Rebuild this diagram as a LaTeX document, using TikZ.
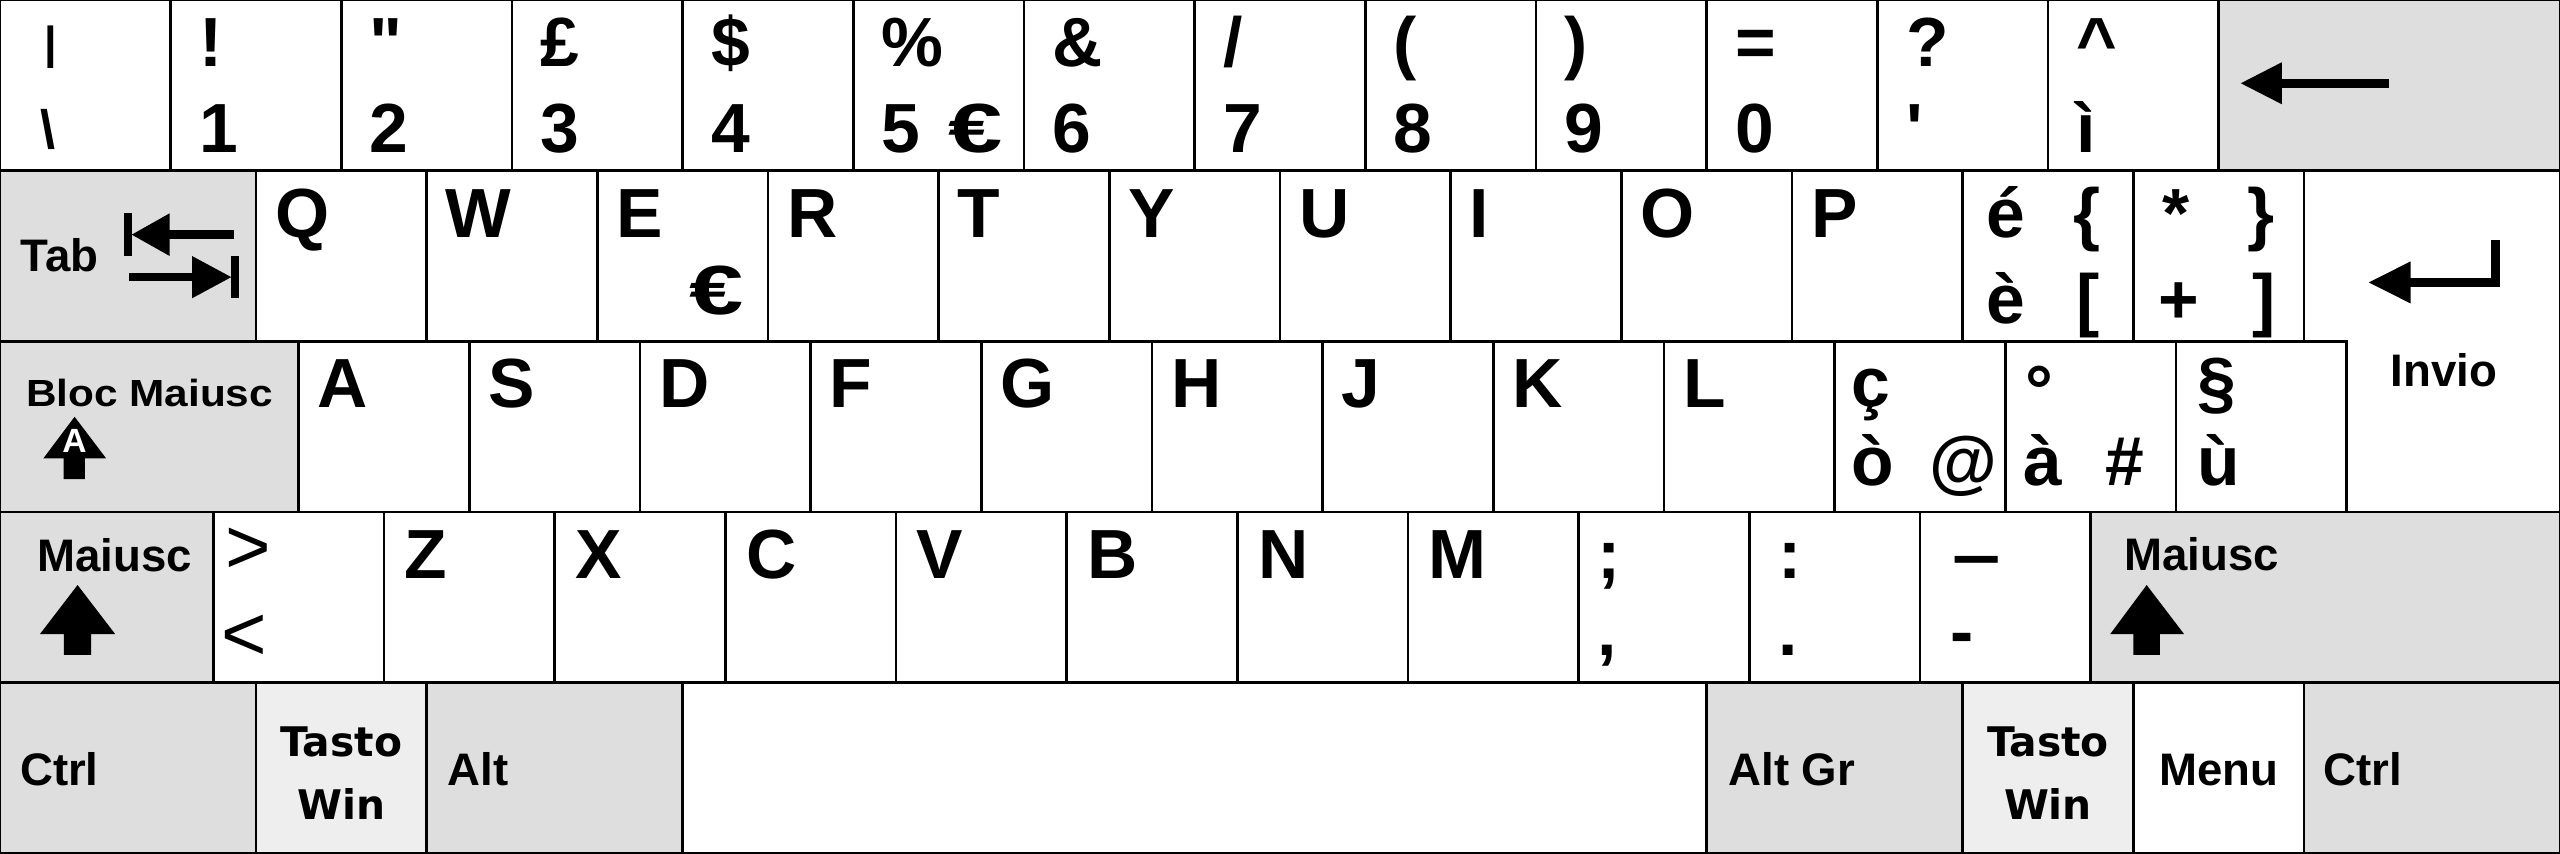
\documentclass[tikz,border=0pt]{standalone}
\usepackage{fontspec}
\setmainfont{Liberation Sans}
\newfontfamily\winfont{DejaVu Sans}

\definecolor{modgray}{HTML}{DEDEDE}
\definecolor{wingray}{HTML}{EEEEEE}

\begin{document}
\begin{tikzpicture}
            [x=1cm,y=1cm,line width=0.45pt,
             key/.style={draw, fill=white},
             modkey/.style={draw, fill=modgray},
             winkey/.style={draw, fill=wingray},
             every node/.style={inner sep=0pt, anchor=base west, font=\bfseries\fontsize{11.6}{12}\selectfont},
             modlabel/.style={font=\bfseries\fontsize{7.6}{8}\selectfont},
             winlabel/.style={anchor=base, font=\winfont\bfseries\fontsize{6.8}{7}\selectfont},
             thin/.style={anchor=center, font=\mdseries\fontsize{13}{13}\selectfont}]
          \useasboundingbox (0,0) rectangle (15,5);

          \foreach \i in {0,...,12}
            \draw[key] (\i,4) rectangle ++(1,1);
          \draw[modkey] (13,4) rectangle (15,5);

          \draw[modkey] (0,3) rectangle (1.5,4);
          \foreach \i in {0,...,11}
            \draw[key] (1.5+\i,3) rectangle ++(1,1);

          \draw[modkey] (0,2) rectangle (1.75,3);
          \foreach \i in {0,...,11}
            \draw[key] (1.75+\i,2) rectangle ++(1,1);

          \draw[key] (13.5,4) -- (15,4) -- (15,2) -- (13.75,2) -- (13.75,3) -- (13.5,3) -- cycle;

          \draw[modkey] (0,1) rectangle (1.25,2);
          \foreach \i in {0,...,10}
            \draw[key] (1.25+\i,1) rectangle ++(1,1);
          \draw[modkey] (12.25,1) rectangle (15,2);

          \foreach \x/\w/\s in {0/1.5/modkey, 1.5/1/winkey, 2.5/1.5/modkey, 4/6/key, 10/1.5/modkey, 11.5/1/winkey, 12.5/1/key, 13.5/1.5/modkey}
            \draw[\s] (\x,0) rectangle ++(\w,1);

          \node (u0) at (0.25,4.66) {\fontsize{7.5}{8}\selectfont |};
          \node (d0) at (0.23,4.13) {\fontsize{9}{9}\selectfont \textbackslash};
          \foreach \up/\dn [count=\i from 1] in {!/1, \textquotedbl/2, £/3, \$/4, \%/5, \&/6, {/}/7, {(}/8, {)}/9, =/0, ?/\textquotesingle, \textasciicircum/ì}
            {\node (u\i) at (\i+0.16,4.61) {\up};
             \node (d\i) at (\i+0.16,4.105) {\dn};}
          \node (eur5) at (5.55,4.105) {\scalebox{1.4}[1]{€}};

          \fill (13.13,4.512) -- (13.37,4.635) -- (13.37,4.389) -- cycle;
          \fill (13.36,4.487) rectangle (14.0,4.537);

          \node[modlabel] (tab) at (0.115,3.408) {Tab};
          \fill (0.728,3.5) rectangle (0.772,3.75);
          \fill (0.772,3.625) -- (0.994,3.75) -- (0.994,3.5) -- cycle;
          \fill (0.99,3.6) rectangle (1.373,3.65);
          \fill (0.754,3.351) rectangle (1.13,3.401);
          \fill (1.125,3.5) -- (1.355,3.376) -- (1.125,3.252) -- cycle;
          \fill (1.355,3.252) rectangle (1.40,3.5);

          \foreach \ch [count=\i from 0] in {Q,W,E,R,T,Y,U,I,O,P}
            \node (q\i) at (1.605+\i,3.61) {\ch};
          \node (eurE) at (4.03,3.155) {\scalebox{1.4}[1]{€}};
          \node (eac) at (11.63,3.61) {é};
          \node (egr) at (11.63,3.106) {è};
          \node (lbr) at (12.14,3.61) {\{};
          \node (lsq) at (12.16,3.106) {[};
          \node (ast) at (12.66,3.61) {*};
          \node (plus) at (12.64,3.106) {+};
          \node (rbr) at (13.16,3.61) {\}};
          \node (rsq) at (13.19,3.106) {]};

          \draw[line width=1.42pt] (14.622,3.594) -- (14.622,3.345) -- (14.12,3.345);
          \fill (14.124,3.468) -- (13.88,3.345) -- (14.124,3.222) -- cycle;
          \node[modlabel, anchor=base] (invio) at (14.32,2.733) {Invio};

          \node[font=\bfseries\fontsize{6.3}{7}\selectfont] (caps) at (0.145,2.616) {\scalebox{1.12}[1]{Bloc Maiusc}};
          \fill (0.437,2.558) -- (0.622,2.314) -- (0.497,2.314) -- (0.497,2.192) -- (0.373,2.192) -- (0.373,2.314) -- (0.254,2.314) -- cycle;
          \node[anchor=base, text=white, font=\bfseries\fontsize{5.6}{6}\selectfont] (capsA) at (0.437,2.35) {A};

          \foreach \ch [count=\i from 0] in {A,S,D,F,G,H,J,K,L}
            \node (a\i) at (1.855+\i,2.61) {\ch};
          \node (cced) at (10.84,2.62) {ç};
          \node (ogr) at (10.84,2.155) {ò};
          \node (at) at (11.3,2.155) {@};
          \node (deg) at (11.86,2.57) {°};
          \node (agr) at (11.85,2.155) {à};
          \node (hash) at (12.33,2.155) {\#};
          \node (sect) at (12.87,2.62) {§};
          \node (ugr) at (12.87,2.155) {ù};

          \node[modlabel] (lshift) at (0.21,1.65) {Maiusc};
          \fill (0.4545,1.572) -- (0.6745,1.285) -- (0.5345,1.285) -- (0.5345,1.162) -- (0.3745,1.162) -- (0.3745,1.285) -- (0.2345,1.285) -- cycle;
          \node[thin] (gt) at (1.455,1.77) {>};
          \node[thin] (lt) at (1.43,1.265) {<};
          \foreach \ch [count=\i from 0] in {Z,X,C,V,B,N,M}
            \node (z\i) at (2.365+\i,1.61) {\ch};
          \node (semi) at (9.35,1.61) {;};
          \node (comma) at (9.35,1.16) {,};
          \node (colon) at (10.41,1.61) {:};
          \node (dot) at (10.41,1.16) {.};
          \node (dash) at (11.43,1.61) {\scalebox{1.25}[1]{–}};
          \node (hyph) at (11.42,1.16) {-};

          \node[modlabel] (rshift) at (12.44,1.66) {Maiusc};
          \fill (12.578,1.572) -- (12.797,1.285) -- (12.656,1.285) -- (12.656,1.162) -- (12.5,1.162) -- (12.5,1.285) -- (12.365,1.285) -- cycle;

          \node[modlabel] (lctrl) at (0.11,0.4) {Ctrl};
          \node[winlabel] (lwin1) at (2,0.567) {Tasto};
          \node[winlabel] (lwin2) at (2,0.2) {Win};
          \node[modlabel] (alt) at (2.615,0.4) {Alt};
          \node[modlabel] (altgr) at (10.12,0.4) {Alt Gr};
          \node[winlabel] (rwin1) at (12,0.567) {Tasto};
          \node[winlabel] (rwin2) at (12,0.2) {Win};
          \node[modlabel, anchor=base] (menu) at (13,0.4) {Menu};
          \node[modlabel] (rctrl) at (13.605,0.4) {Ctrl};
        \end{tikzpicture}
\end{document}
